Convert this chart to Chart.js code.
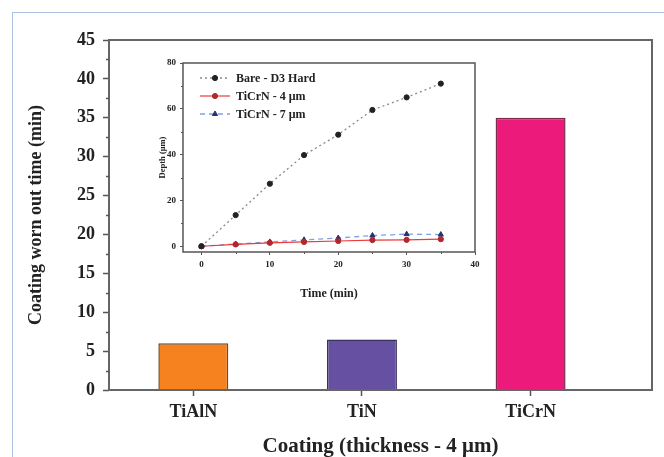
<!DOCTYPE html>
<html>
<head>
<meta charset="utf-8">
<script src="https://cdn.jsdelivr.net/npm/chart.js@4.4.0/dist/chart.umd.min.js"></script>
<style>
  html, body { margin: 0; padding: 0; background: #fff; }
  #wrap { position: relative; width: 664px; height: 457px; overflow: hidden; }
  #frame { position: absolute; left: 12px; top: 12px; width: 700px; height: 500px;
           border-top: 1.5px solid #a9c3dc; border-left: 1.5px solid #a9c3dc; }
  #main { position: absolute; left: 0; top: 0; }
  #inset { position: absolute; left: 140px; top: 50px; }
</style>
</head>
<body>
<div id="wrap">
  <div id="frame"></div>
  <canvas id="main" width="664" height="457"></canvas>
  <canvas id="inset" width="345" height="250"></canvas>
</div>
<script>
// Coating worn-out time (bar chart)
const coatings = ['TiAlN', 'TiN', 'TiCrN'];
const wornOutTime = [6, 6.5, 35];
const barColors = ['#f6821f', '#6650a2', '#ec1a7b'];
const barEdges = ['#6b4a2e', '#3a3060', '#7a2a4a'];
const wornMinorTicks = [2.5, 7.5, 12.5, 17.5, 22.5, 27.5, 32.5, 37.5, 42.5];

// Wear depth vs time (inset)
const timeMin = [0, 5, 10, 15, 20, 25, 30, 35];
const depthBare = [0, 13.6, 27.3, 39.8, 48.7, 59.5, 65, 71];
const depthTiCrN4 = [0, 0.8, 1.5, 1.9, 2.3, 2.7, 2.8, 3.1];
const depthTiCrN7 = [0, 1.0, 1.9, 2.8, 3.6, 4.7, 5.3, 5.1];
const depthTicks = [0, 20, 40, 60, 80];
const depthMinorTicks = [10, 30, 50, 70];
const timeTicks = [0, 10, 20, 30, 40];
const timeMinorTicks = [5, 15, 25, 35];

const SERIF = "'Liberation Serif', 'Times New Roman', serif";

// Box around the plot area
const frameBox = {
  id: 'frameBox',
  afterDatasetsDraw(chart, args, opts) {
    const { ctx, chartArea: a } = chart;
    ctx.save();
    ctx.strokeStyle = opts.color;
    ctx.lineWidth = opts.width;
    ctx.strokeRect(a.left, a.top, a.right - a.left, a.bottom - a.top);
    ctx.restore();
  }
};

// Short outward minor ticks
const minorTicks = {
  id: 'minorTicks',
  afterDraw(chart, args, opts) {
    const { ctx } = chart;
    const xs = chart.scales.x, ys = chart.scales.y;
    ctx.save();
    ctx.strokeStyle = opts.color;
    ctx.lineWidth = opts.width;
    (opts.y || []).forEach(v => {
      const p = Math.round(ys.getPixelForValue(v)) + 0.5;
      ctx.beginPath(); ctx.moveTo(ys.right, p); ctx.lineTo(ys.right - opts.len, p); ctx.stroke();
    });
    (opts.x || []).forEach(v => {
      const p = Math.round(xs.getPixelForValue(v)) + 0.5;
      ctx.beginPath(); ctx.moveTo(p, xs.top); ctx.lineTo(p, xs.top + opts.len); ctx.stroke();
    });
    ctx.restore();
  }
};

// Legend drawn inside the plot area with line + marker samples
const lineLegend = {
  id: 'lineLegend',
  afterDraw(chart, args, opts) {
    const { ctx, chartArea: a } = chart;
    ctx.save();
    ctx.font = opts.font;
    ctx.textBaseline = 'middle';
    chart.data.datasets.forEach((ds, i) => {
      const y = a.top + opts.top + i * opts.rowGap;
      const x0 = a.left + opts.left;
      ctx.save();
      ctx.strokeStyle = ds.borderColor;
      ctx.lineWidth = ds.borderWidth;
      ctx.setLineDash(ds.borderDash || []);
      ctx.beginPath(); ctx.moveTo(x0, y); ctx.lineTo(x0 + opts.lineLen, y); ctx.stroke();
      ctx.restore();
      ctx.save();
      ctx.fillStyle = ds.pointBackgroundColor;
      ctx.strokeStyle = ds.pointBorderColor;
      ctx.lineWidth = ds.pointBorderWidth;
      Chart.helpers.drawPoint(ctx, {
        pointStyle: ds.pointStyle, radius: ds.pointRadius, borderWidth: ds.pointBorderWidth, rotation: 0
      }, x0 + opts.lineLen / 2, y);
      ctx.restore();
      ctx.fillStyle = '#222';
      ctx.fillText(ds.label, x0 + opts.lineLen + opts.textGap, y + 0.5);
    });
    ctx.restore();
  }
};

new Chart(document.getElementById('main'), {
  type: 'bar',
  data: {
    datasets: [{
      data: coatings.map((c, i) => ({ x: i + 1, y: wornOutTime[i] })),
      backgroundColor: barColors,
      borderColor: barEdges,
      borderWidth: 1.5,
      barPercentage: 0.415,
      categoryPercentage: 1
    }]
  },
  options: {
    responsive: false,
    animation: false,
    layout: { padding: { top: 40, right: 12, left: 0, bottom: 0 } },
    plugins: {
      legend: { display: false },
      tooltip: { enabled: false },
      frameBox: { color: '#666', width: 2 },
      minorTicks: { y: wornMinorTicks, color: '#555', width: 1.5, len: 3 }
    },
    scales: {
      x: {
        type: 'linear',
        offset: false,
        min: 0.5,
        max: 3.72,
        afterBuildTicks: s => { s.ticks = coatings.map((c, i) => ({ value: i + 1 })); },
        afterFit: s => { s.height = 67; },
        grid: { offset: false, drawOnChartArea: false, drawTicks: true, tickLength: 6, tickColor: '#555', tickWidth: 1.5 },
        border: { display: false },
        ticks: {
          autoSkip: false,
          maxRotation: 0,
          padding: 6,
          color: '#222',
          font: { family: SERIF, size: 18, weight: 'bold' },
          callback: v => coatings[v - 1] || ''
        },
        title: {
          display: true,
          text: 'Coating (thickness - 4 μm)',
          color: '#222',
          padding: { top: 0, bottom: 0 },
          font: { family: SERIF, size: 21, weight: 'bold', lineHeight: 1 }
        }
      },
      y: {
        min: 0,
        max: 45,
        afterFit: s => { s.width = 109; },
        grid: { drawOnChartArea: false, drawTicks: true, tickLength: 6, tickColor: '#555', tickWidth: 1.5 },
        border: { display: false },
        ticks: {
          stepSize: 5,
          padding: 8,
          color: '#222',
          font: { family: SERIF, size: 18, weight: 'bold' }
        },
        title: {
          display: true,
          text: 'Coating worn out time (min)',
          color: '#222',
          padding: { top: 27, bottom: 0 },
          font: { family: SERIF, size: 18, weight: 'bold', lineHeight: 1 }
        }
      }
    }
  },
  plugins: [frameBox, minorTicks]
});

const pts = arr => timeMin.map((t, i) => ({ x: t, y: arr[i] }));

new Chart(document.getElementById('inset'), {
  type: 'line',
  data: {
    datasets: [
      {
        label: 'Bare - D3 Hard',
        data: pts(depthBare),
        borderColor: '#8a8a8a',
        borderWidth: 1.3,
        borderDash: [2, 3],
        pointStyle: 'circle',
        pointRadius: 2.6,
        pointBackgroundColor: '#222',
        pointBorderColor: '#222',
        pointBorderWidth: 1
      },
      {
        label: 'TiCrN - 4 μm',
        data: pts(depthTiCrN4),
        borderColor: '#ee3a3a',
        borderWidth: 1.2,
        pointStyle: 'circle',
        pointRadius: 2.6,
        pointBackgroundColor: '#b0282e',
        pointBorderColor: '#b0282e',
        pointBorderWidth: 1
      },
      {
        label: 'TiCrN - 7 μm',
        data: pts(depthTiCrN7),
        borderColor: '#7fa3e0',
        borderWidth: 1.3,
        borderDash: [5, 4],
        pointStyle: 'triangle',
        pointRadius: 3,
        pointBackgroundColor: '#27336e',
        pointBorderColor: '#27336e',
        pointBorderWidth: 1
      }
    ]
  },
  options: {
    responsive: false,
    animation: false,
    layout: { padding: { top: 13, right: 10, left: 0, bottom: 0 } },
    plugins: {
      legend: { display: false },
      tooltip: { enabled: false },
      frameBox: { color: '#555', width: 1.5 },
      minorTicks: { y: depthMinorTicks, x: timeMinorTicks, color: '#555', width: 1, len: 2 },
      lineLegend: { font: "bold 12px 'Liberation Serif', serif", top: 15, rowGap: 18, left: 17, lineLen: 30, textGap: 6 }
    },
    scales: {
      x: {
        type: 'linear',
        min: -2.7,
        max: 40,
        afterBuildTicks: s => { s.ticks = timeTicks.map(v => ({ value: v })); },
        afterFit: s => { s.height = 48; },
        grid: { drawOnChartArea: false, drawTicks: true, tickLength: 3, tickColor: '#555', tickWidth: 1 },
        border: { display: false },
        ticks: {
          autoSkip: false, maxRotation: 0, padding: 4, color: '#222',
          font: { family: SERIF, size: 9, weight: 'bold' }
        },
        title: {
          display: true, text: 'Time (min)', color: '#222',
          padding: { top: 6, bottom: 0 },
          font: { family: SERIF, size: 12, weight: 'bold', lineHeight: 1 }
        }
      },
      y: {
        min: -2.5,
        max: 80,
        afterBuildTicks: s => { s.ticks = depthTicks.map(v => ({ value: v })); },
        afterFit: s => { s.width = 43; },
        grid: { drawOnChartArea: false, drawTicks: true, tickLength: 3, tickColor: '#555', tickWidth: 1 },
        border: { display: false },
        ticks: {
          autoSkip: false, padding: 4, color: '#222',
          font: { family: SERIF, size: 9, weight: 'bold' }
        },
        title: {
          display: true, text: 'Depth (μm)', color: '#222',
          padding: { top: 19, bottom: 0 },
          font: { family: SERIF, size: 8.5, weight: 'bold', lineHeight: 1 }
        }
      }
    }
  },
  plugins: [frameBox, minorTicks, lineLegend]
});
</script>
</body>
</html>
